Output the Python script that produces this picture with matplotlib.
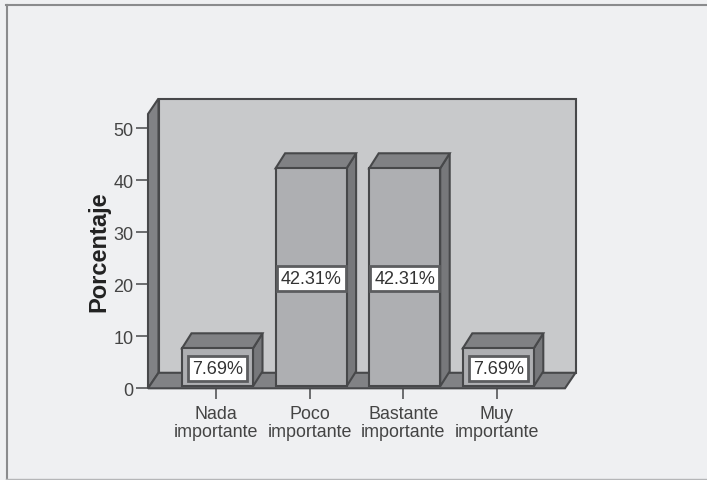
import matplotlib
matplotlib.use('Agg')
import matplotlib.pyplot as plt
from matplotlib.patches import Polygon
from matplotlib.lines import Line2D

categories = ['Nada\nimportante', 'Poco\nimportante', 'Bastante\nimportante', 'Muy\nimportante']
valores = [7.69, 42.31, 42.31, 7.69]
etiquetas = ['7.69%', '42.31%', '42.31%', '7.69%']
yticks = [0, 10, 20, 30, 40, 50]

W, H = 707, 481
BG = '#eff0f2'
EDGE = '#47484a'

# scale of the plot in pixels
PX_X = 93.6
PX_Y = 5.2
X0_PX = 217.5
Y0_PX = 389.3
LEFT_PX = 148
RIGHT_PX = 565
TOP_PX = 115

plt.rcParams['font.family'] = ['Liberation Sans', 'DejaVu Sans']

fig = plt.figure(figsize=(W / 100, H / 100), dpi=100, facecolor=BG)
ax = fig.add_axes([LEFT_PX / W, 1 - Y0_PX / H, (RIGHT_PX - LEFT_PX) / W, (Y0_PX - TOP_PX) / H])
xmin = (LEFT_PX - X0_PX) / PX_X
xmax = (RIGHT_PX - X0_PX) / PX_X
ymax = (Y0_PX - TOP_PX) / PX_Y
ax.set_xlim(xmin, xmax)
ax.set_ylim(0, ymax)
ax.patch.set_visible(False)
for s in ax.spines.values():
    s.set_visible(False)

# 3d depth of walls and bars, in data units
dx = 10.5 / PX_X
dy = 15.5 / PX_Y
bdx = 9.5 / PX_X
bdy = 15 / PX_Y
bw = 71 / PX_X
base = 2 / PX_Y


def poly(pts, color):
    ax.add_patch(Polygon(pts, closed=True, facecolor=color, edgecolor=EDGE, lw=1.5,
                         joinstyle='miter', clip_on=False))


# back wall, left wall, floor
poly([(xmin + dx, dy), (xmax + dx, dy), (xmax + dx, ymax + dy), (xmin + dx, ymax + dy)], '#c8c9cb')
poly([(xmin, 0), (xmin + dx, dy), (xmin + dx, ymax + dy), (xmin, ymax)], '#818285')
poly([(xmin, 0), (xmax, 0), (xmax + dx, dy), (xmin + dx, dy)], '#818285')

for i, v in enumerate(valores):
    l, r = i - bw / 2, i + bw / 2
    poly([(r, base), (r + bdx, base + bdy), (r + bdx, v + bdy), (r, v)], '#77787b')
    poly([(l, v), (r, v), (r + bdx, v + bdy), (l + bdx, v + bdy)], '#808184')
    ax.bar(i, v - base, bottom=base, width=bw, color='#aeafb2', edgecolor=EDGE, lw=1.5, clip_on=False)
    ax.text(i, v / 2, etiquetas[i], ha='center', va='center', fontsize=13, color='#333333', zorder=6,
            bbox=dict(boxstyle='square,pad=0.22', facecolor='white', edgecolor='#5c5d5f', lw=2))

ax.set_yticks(yticks)
ax.set_xticks([i - 1.5 / PX_X for i in range(len(categories))])
ax.set_xticklabels(categories, linespacing=1.02)
ax.tick_params(axis='y', length=8.5, width=1.1, color='#47484a', labelcolor='#444444', labelsize=13, pad=2)
ax.tick_params(axis='x', length=7.7, width=1.1, color='#47484a', labelcolor='#444444', labelsize=12.9, pad=4.5)
fig.text(99 / W, 1 - 252 / H, 'Porcentaje', rotation=90, ha='center', va='center',
         fontsize=17, fontweight='bold', color='#222222')

# outer frame: top, left and bottom only
frame = '#8a8b8d'
fig.add_artist(Line2D([6.5 / W, 6.5 / W], [1 - 6 / H, 1 - 480 / H], color=frame, lw=1.5))
fig.add_artist(Line2D([6 / W, 1], [1 - 6 / H, 1 - 6 / H], color=frame, lw=1.5))
fig.add_artist(Line2D([6 / W, 1], [1 - 480 / H, 1 - 480 / H], color='#b5b6b8', lw=1))

fig.savefig('out.png', dpi=100, facecolor=BG)
